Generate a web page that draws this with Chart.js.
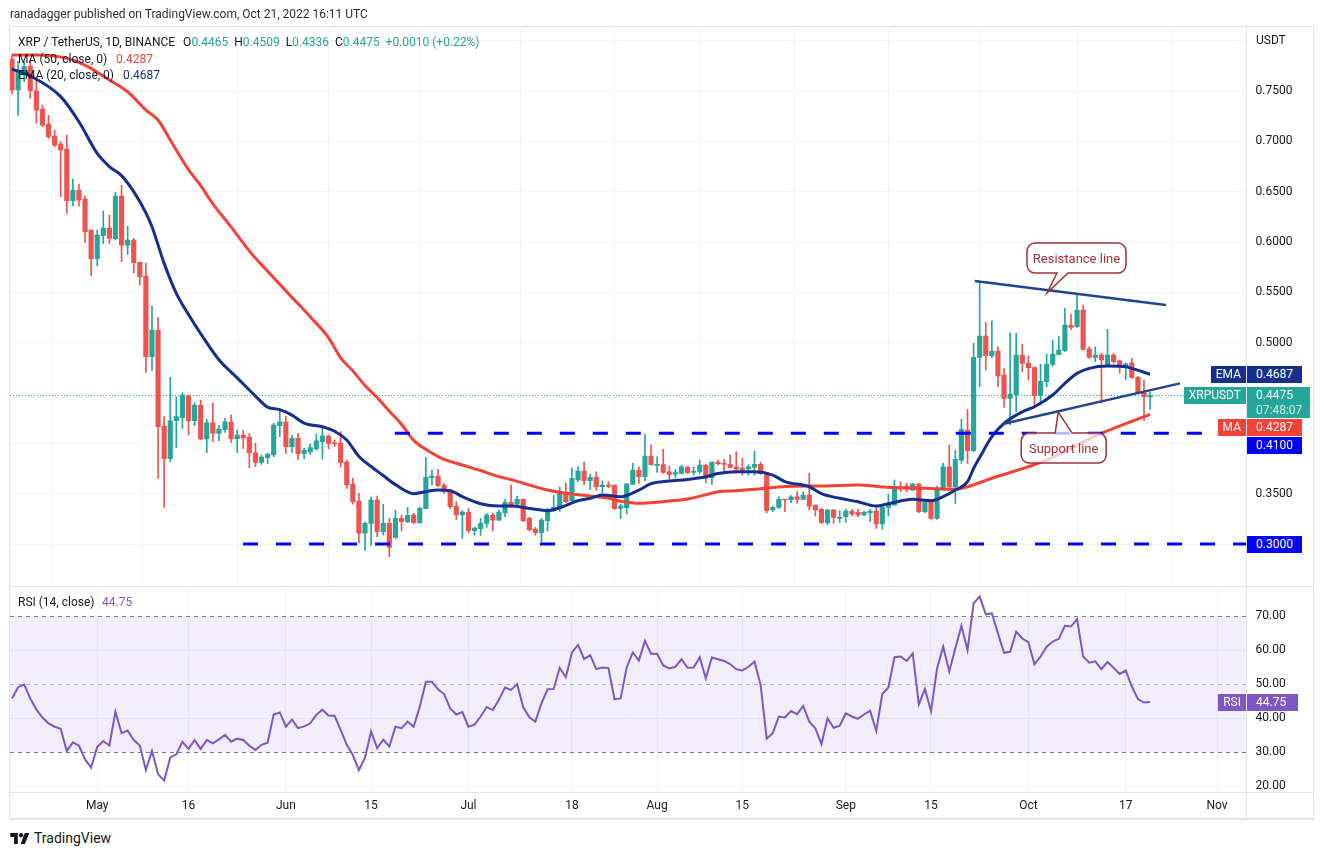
<!DOCTYPE html>
<html>
<head>
<meta charset="utf-8">
<script src="https://cdn.jsdelivr.net/npm/chart.js@4/dist/chart.umd.min.js"></script>
<style>
html,body{margin:0;padding:0;background:#fff;width:1324px;height:855px;overflow:hidden;font-family:Roboto,"Liberation Sans",Arial,sans-serif;color:#131722}
canvas{position:absolute;left:0}
#cA{top:0}
#cB{top:586px}
.t{position:absolute;white-space:nowrap;line-height:16px}
.lg{font-size:12px}
.g{color:#26a69a}
.ln{position:absolute;background:#e0e3eb}
.badge{position:absolute;height:17px;line-height:17px;font-size:12px;color:#fff;white-space:nowrap}
.co{position:absolute;display:flex;align-items:center;justify-content:center;font-size:13px;color:#a3303a;white-space:nowrap}
</style>
</head>
<body>
<canvas id="cA" width="1324" height="586"></canvas>
<canvas id="cB" width="1324" height="234"></canvas>

<div class="ln" style="left:9px;top:26px;width:1305px;height:1px"></div>
<div class="ln" style="left:9px;top:26px;width:1px;height:794px"></div>
<div class="ln" style="left:1313px;top:26px;width:1px;height:794px"></div>
<div class="ln" style="left:9px;top:586px;width:1305px;height:1px"></div>
<div class="ln" style="left:9px;top:792px;width:1305px;height:1px"></div>
<div class="ln" style="left:9px;top:818px;width:1305px;height:2px"></div>
<div class="ln" style="left:1246px;top:26px;width:1px;height:793px"></div>

<div class="t" style="left:10px;top:6px;font-size:12px;color:#2a2e39">ranadagger published on TradingView.com, Oct 21, 2022 16:11 UTC</div>
<div class="t lg" style="left:18px;top:34px">XRP / TetherUS, 1D, BINANCE<span id="ohlc" style="margin-left:8px"></span></div>
<div class="t lg" style="left:18px;top:51px">MA (50, close, 0)</div>
<div class="t lg" id="maVal" style="left:116px;top:51px;color:#f44336"></div>
<div class="t lg" style="left:18px;top:67px">EMA (20, close, 0)</div>
<div class="t lg" id="emaVal" style="left:123px;top:67px;color:#152f8e"></div>
<div class="t lg" style="left:18px;top:594px">RSI (14, close)</div>
<div class="t lg" id="rsiVal" style="left:102px;top:594px;color:#7e57c2"></div>
<div class="t" style="left:1256px;top:32px;font-size:12px">USDT</div>

<div id="badges"></div>
<div id="callouts"></div>

<div class="t" style="left:10px;top:829px;font-size:14px;line-height:18px;display:flex;align-items:center">
<svg width="20" height="13" viewBox="0 0 36 24" style="margin-right:4px"><path d="M14 22H7V9H0V2h14v20zM27 22h-8l8-20h8L27 22z" fill="#131722"/><circle cx="20" cy="6" r="4" fill="#131722"/></svg>TradingView</div>

<script>
// ---------------- DATA ----------------
// Daily candles, index 0 = 2022-04-17 ... index 187 = 2022-10-21
const opens = [
.7814,.7510,.7692,.7748,.7503,.7321,.7172,.7053,.6973,.6924,
.6410,.6516,.6427,.6119,.5834,.6063,.6139,.6033,.6457,.5970,
.6020,.5798,.5662,.4861,.5126,.4172,.3848,.4225,.4255,.4473,
.4225,.4381,.4043,.4205,.4099,.4136,.4212,.4046,.4083,.4063,
.3907,.3811,.3857,.3884,.4175,.4212,.3967,.4050,.3897,.3914,
.3947,.4016,.4073,.4003,.4003,.3815,.3596,.3427,.3109,.3205,
.3437,.3122,.3205,.3066,.3255,.3222,.3288,.3212,.3351,.3659,
.3675,.3583,.3536,.3377,.3288,.3315,.3132,.3152,.3205,.3288,
.3238,.3308,.3414,.3397,.3444,.3258,.3149,.3112,.3232,.3331,
.3351,.3510,.3430,.3636,.3725,.3629,.3662,.3569,.3586,.3586,
.3354,.3361,.3593,.3735,.3669,.3874,.3781,.3788,.3718,.3695,
.3702,.3762,.3712,.3718,.3785,.3659,.3815,.3801,.3791,.3768,
.3752,.3745,.3762,.3791,.3709,.3338,.3364,.3444,.3437,.3470,
.3444,.3487,.3387,.3344,.3212,.3338,.3255,.3271,.3325,.3315,
.3288,.3311,.3328,.3199,.3364,.3387,.3563,.3576,.3536,.3596,
.3321,.3420,.3255,.3546,.3768,.3569,.3834,.4132,.3927,.4854,
.5066,.4871,.4917,.4679,.4447,.4480,.4877,.4795,.4752,.4473,
.4612,.4785,.4881,.4920,.5175,.5159,.5324,.4940,.4854,.4877,
.4778,.4877,.4821,.4755,.4801,.4656,.4503,.4465];
const highs = [
.7860,.7792,.7790,.7800,.7609,.7361,.7258,.7113,.6997,.7063,
.6626,.6576,.6457,.6119,.6119,.6308,.6268,.6493,.6563,.6159,
.6036,.5800,.5788,.5364,.5252,.4265,.4656,.4463,.4503,.4480,
.4404,.4430,.4239,.4397,.4182,.4248,.4281,.4132,.4132,.4099,
.4000,.3884,.3901,.4200,.4338,.4265,.4083,.4099,.3950,.3990,
.4090,.4172,.4083,.4033,.4116,.3834,.3653,.3503,.3220,.3470,
.3477,.3394,.3255,.3338,.3288,.3364,.3305,.3364,.3861,.3735,
.3742,.3603,.3543,.3420,.3331,.3354,.3166,.3255,.3305,.3305,
.3338,.3444,.3586,.3477,.3450,.3265,.3166,.3255,.3354,.3487,
.3569,.3609,.3758,.3768,.3815,.3695,.3718,.3626,.3620,.3586,
.3394,.3603,.3801,.3768,.4093,.3983,.3867,.3940,.3775,.3742,
.3785,.3775,.3768,.3834,.3795,.3815,.3834,.3841,.3884,.3917,
.3851,.3790,.3924,.3811,.3709,.3377,.3470,.3444,.3480,.3520,
.3520,.3702,.3387,.3354,.3344,.3344,.3331,.3344,.3344,.3344,
.3328,.3344,.3387,.3387,.3497,.3636,.3619,.3603,.3603,.3603,
.3444,.3437,.3576,.3801,.3983,.3934,.4239,.4338,.4993,.5596,
.5199,.5218,.4960,.4745,.5099,.5093,.4987,.4867,.4761,.4788,
.4887,.5026,.5060,.5341,.5285,.5483,.5374,.4960,.4960,.4894,
.5132,.4894,.4828,.4801,.4845,.4665,.4629,.4509];
const lows = [
.7470,.7258,.7593,.7427,.7182,.7145,.7030,.6947,.6450,.6285,
.6361,.6357,.5997,.5666,.5765,.5987,.5987,.6020,.5804,.5877,
.5695,.5573,.4705,.4722,.3652,.3364,.3818,.3957,.4149,.4083,
.4175,.4033,.3907,.4016,.4026,.4109,.4006,.3907,.3950,.3758,
.3768,.3792,.3798,.3868,.4066,.3901,.3907,.3838,.3848,.3891,
.3934,.3844,.3944,.3967,.3767,.3553,.3397,.3010,.2934,.2987,
.3073,.3089,.2874,.3056,.3129,.3212,.3205,.3205,.3351,.3586,
.3569,.3503,.3350,.3245,.3056,.3112,.3089,.3086,.3166,.3129,
.3232,.3271,.3364,.3387,.3225,.3129,.3089,.3023,.3129,.3325,
.3325,.3410,.3420,.3619,.3586,.3543,.3536,.3510,.3560,.3344,
.3251,.3298,.3593,.3603,.3626,.3785,.3712,.3702,.3643,.3653,
.3695,.3702,.3685,.3702,.3609,.3593,.3785,.3702,.3755,.3702,
.3685,.3685,.3685,.3692,.3311,.3321,.3354,.3321,.3410,.3404,
.3437,.3338,.3278,.3205,.3189,.3205,.3215,.3215,.3278,.3271,
.3278,.3222,.3156,.3146,.3278,.3387,.3520,.3520,.3536,.3311,
.3311,.3245,.3245,.3536,.3536,.3404,.3801,.3801,.3917,.4563,
.4728,.4850,.4563,.4358,.4182,.4315,.4712,.4629,.4381,.4381,
.4563,.4768,.4881,.4910,.5126,.5152,.4928,.4845,.4811,.4398,
.4768,.4796,.4696,.4636,.4646,.4497,.4225,.4336];
const closes = [
.7510,.7692,.7742,.7503,.7311,.7162,.7046,.6963,.6914,.6410,
.6516,.6417,.6102,.5834,.6069,.6139,.6036,.6457,.5970,.6020,
.5795,.5656,.4861,.5126,.4166,.3848,.4225,.4265,.4480,.4225,
.4381,.4043,.4205,.4099,.4142,.4215,.4046,.4083,.4053,.3907,
.3811,.3864,.3894,.4182,.4215,.3967,.4050,.3897,.3931,.3957,
.4026,.4073,.4000,.3995,.3808,.3586,.3420,.3109,.3205,.3437,
.3122,.3205,.2967,.3255,.3222,.3285,.3212,.3354,.3662,.3675,
.3580,.3526,.3371,.3288,.3318,.3132,.3159,.3205,.3288,.3238,
.3315,.3414,.3377,.3444,.3232,.3139,.3112,.3238,.3331,.3364,
.3510,.3420,.3653,.3725,.3629,.3662,.3569,.3586,.3573,.3351,
.3377,.3596,.3735,.3669,.3874,.3788,.3788,.3712,.3692,.3709,
.3768,.3709,.3718,.3785,.3653,.3815,.3798,.3791,.3762,.3745,
.3735,.3768,.3791,.3702,.3331,.3364,.3444,.3437,.3470,.3444,
.3487,.3377,.3338,.3212,.3338,.3265,.3265,.3328,.3298,.3288,
.3315,.3328,.3199,.3364,.3397,.3560,.3546,.3543,.3596,.3321,
.3420,.3255,.3553,.3768,.3569,.3841,.4139,.3927,.4854,.5066,
.4871,.4917,.4669,.4447,.4490,.4877,.4795,.4752,.4473,.4616,
.4785,.4887,.4927,.5175,.5152,.5324,.4934,.4854,.4877,.4828,
.4877,.4811,.4778,.4791,.4656,.4503,.4465,.4475];
const rsiValues = [
45.8,49.1,49.9,45.8,42.6,40.2,38.5,37.5,36.9,30.4,
32.9,31.9,27.9,25.5,31.6,33.3,32.0,41.9,35.6,36.4,
33.6,32.0,24.8,30.4,23.6,21.7,28.5,29.4,33.1,31.0,
33.6,31.0,33.6,32.6,33.8,35.1,33.1,34.0,33.6,31.9,
30.7,32.2,32.8,41.1,41.7,37.5,39.6,37.1,37.6,38.5,
41.0,42.5,40.8,40.7,36.6,32.2,29.2,24.8,28.4,36.1,
31.2,33.7,31.7,37.5,37.1,39.0,37.5,43.4,50.7,50.7,
48.5,47.1,42.9,41.1,41.8,37.5,38.1,40.5,43.3,42.4,
45.4,49.0,48.3,50.0,43.2,40.3,39.0,44.4,48.5,48.6,
54.8,52.0,59.3,61.5,57.4,58.5,54.4,54.9,54.7,45.6,
45.8,54.9,59.3,56.9,62.7,58.9,58.9,55.5,54.6,55.1,
57.3,54.8,54.9,57.9,51.7,57.8,57.3,56.8,55.9,54.4,
54.0,55.1,56.6,49.8,34.0,35.6,40.5,40.2,42.1,41.2,
43.6,39.0,37.0,32.4,40.0,37.2,37.8,41.4,40.5,39.8,
41.1,42.2,36.3,47.1,49.0,57.9,58.1,56.8,59.0,44.1,
48.6,42.1,54.6,61.0,53.7,60.5,67.1,60.0,73.7,75.7,
70.5,70.8,64.9,59.2,59.5,65.4,63.4,62.3,55.8,58.1,
61.0,62.5,63.3,67.1,66.9,69.1,58.1,56.3,56.7,54.4,
56.5,54.8,53.0,54.0,49.3,45.6,44.6,44.75];
// EMA(20): [day index, value]
const emaLine = [[0,0.7718],[3,0.7650],[8,0.7444],[11,0.7195],[14,0.6880],[16,0.6750],[18,0.6660],[20,0.6500],[22,0.6290],[23,0.6152],[25,0.5788],[27,0.5490],[29,0.5280],[31,0.5090],[34,0.4830],[37,0.4650],[40,0.4470],[42,0.4360],[44,0.4335],[46,0.4280],[48,0.4200],[51,0.4165],[53,0.4120],[55,0.4033],[57,0.3870],[59,0.3770],[61,0.3680],[63,0.3590],[66,0.3500],[68,0.3520],[70,0.3536],[72,0.3530],[74,0.3470],[77,0.3400],[80,0.3377],[82,0.3377],[85,0.3354],[88,0.3331],[90,0.3360],[93,0.3430],[95,0.3454],[97,0.3487],[100,0.3470],[103,0.3536],[105,0.3600],[108,0.3626],[111,0.3642],[114,0.3669],[116,0.3700],[119,0.3718],[122,0.3718],[125,0.3685],[127,0.3620],[131,0.3569],[133,0.3500],[136,0.3454],[139,0.3420],[142,0.3377],[144,0.3400],[148,0.3444],[151,0.3430],[153,0.3470],[155,0.3536],[157,0.3620],[158,0.3750],[159,0.3860],[161,0.4066],[163,0.4199],[166,0.4314],[168,0.4364],[171,0.4480],[173,0.4596],[175,0.4695],[177,0.4745],[180,0.4768],[183,0.4761],[184,0.4745],[187,0.4687]];
// MA(50): [day index, value]
const maLine = [[0,0.7857],[4,0.7857],[9,0.7824],[12,0.7758],[16,0.7609],[19,0.7493],[22,0.7311],[24,0.7212],[26,0.7013],[29,0.6720],[31,0.6560],[33,0.6380],[36,0.6150],[39,0.5910],[42,0.5710],[46,0.5450],[49,0.5258],[52,0.5050],[54,0.4850],[56,0.4720],[58,0.4575],[60,0.4455],[62,0.4320],[64,0.4190],[66,0.4030],[69,0.3905],[71,0.3840],[74,0.3785],[77,0.3730],[80,0.3670],[82,0.3640],[85,0.3586],[88,0.3536],[91,0.3505],[93,0.3490],[95,0.3477],[98,0.3454],[100,0.3425],[103,0.3404],[105,0.3410],[108,0.3427],[111,0.3447],[114,0.3490],[116,0.3520],[119,0.3529],[122,0.3543],[124,0.3556],[128,0.3573],[133,0.3576],[139,0.3586],[144,0.3563],[150,0.3553],[155,0.3543],[157,0.3569],[161,0.3653],[170,0.3834],[179,0.4100],[187,0.4287]];
const dateTicks  = [14,29,45,59,75,92,106,120,137,151,167,183,198];
const dateLabels = ['May','16','Jun','15','Jul','18','Aug','15','Sep','15','Oct','17','Nov'];
const priceTicks = [0.30,0.35,0.40,0.45,0.50,0.55,0.60,0.65,0.70,0.75,0.80];
const rsiTicks   = [20,30,40,50,60,70];
const rsiLevels  = [30,50,70];
// horizontal levels: [price, first day]
const levelLines = [[0.41,62.9],[0.30,37.96]];
const resistanceLine = [[158.2,0.5613],[189.6,0.5374]];
const supportLine    = [[162.8,0.4192],[191.9,0.4596]];
const calloutTexts   = ['Resistance line','Support line'];
const calloutAnchors = [[170.06,0.5493],[171.9,0.4311]];

// ---------------- STYLE ----------------
const X_MIN=-0.33, X_MAX=202.84, P_MIN=0.2583, P_MAX=0.8146, R_MIN=18.35, R_MAX=78.8;
const UP='#26a69a', DOWN='#ef5350', EMA_C='#152f8e', MA_C='#f44336', LEVEL_C='#0000ff', TREND_C='#22448c', RSI_C='#7e57c2', GRID='#f0f3fa';
const calloutLayout = [
  {dx:-20, dy:-50, w:99, h:30, side:'bottom', b1:10, b2:21},
  {dx:-37, dy:21,  w:85, h:30, side:'top',    b1:-3, b2:14}
];

Chart.defaults.font.family = 'Roboto, "Liberation Sans", Arial, sans-serif';
Chart.defaults.font.size = 12;
Chart.defaults.color = '#131722';

const idx = opens.map((_, i) => i);
const last = closes.length - 1;
const isUp = i => closes[i] >= opens[i];
const candleColor = c => isUp(c.dataIndex) ? UP : DOWN;
function zeroPad(s){ s.paddingTop=0; s.paddingBottom=0; s.paddingLeft=0; s.paddingRight=0; }

function xScale(showLabels){
  return {
    type:'linear', min:X_MIN, max:X_MAX, offset:false,
    afterBuildTicks: s => { s.ticks = dateTicks.map(v => ({value:v})); },
    grid:{color:GRID, drawTicks:false},
    border:{display:false},
    ticks:{display:showLabels, autoSkip:false, maxRotation:0, padding:7,
      callback: v => { const k = dateTicks.indexOf(v); return k >= 0 ? dateLabels[k] : ''; }},
    afterFit: s => { s.height = showLabels ? 28 : 0; zeroPad(s); }
  };
}

const calloutPlugin = {
  id:'callouts',
  afterDatasetsDraw(chart){
    const {ctx, scales:{x, y}} = chart;
    const holder = document.getElementById('callouts');
    holder.innerHTML = '';
    calloutAnchors.forEach(([d, p], k) => {
      const L = calloutLayout[k];
      const ax = x.getPixelForValue(d), ay = y.getPixelForValue(p);
      const bx = ax + L.dx, by = ay + L.dy, w = L.w, h = L.h, r = 8;
      ctx.save();
      ctx.beginPath();
      ctx.moveTo(bx + r, by);
      if (L.side === 'top') { ctx.lineTo(ax + L.b1, by); ctx.lineTo(ax, ay); ctx.lineTo(ax + L.b2, by); }
      ctx.lineTo(bx + w - r, by); ctx.arcTo(bx + w, by, bx + w, by + r, r);
      ctx.lineTo(bx + w, by + h - r); ctx.arcTo(bx + w, by + h, bx + w - r, by + h, r);
      if (L.side === 'bottom') { ctx.lineTo(ax + L.b2, by + h); ctx.lineTo(ax, ay); ctx.lineTo(ax + L.b1, by + h); }
      ctx.lineTo(bx + r, by + h); ctx.arcTo(bx, by + h, bx, by + h - r, r);
      ctx.lineTo(bx, by + r); ctx.arcTo(bx, by, bx + r, by, r);
      ctx.closePath();
      ctx.fillStyle = 'rgba(255,255,255,0.72)'; ctx.fill();
      ctx.strokeStyle = '#a1313b'; ctx.lineWidth = 1.5; ctx.stroke();
      ctx.restore();
      const el = document.createElement('div');
      el.className = 'co';
      el.style.left = bx + 'px'; el.style.top = by + 'px';
      el.style.width = w + 'px'; el.style.height = h + 'px';
      el.textContent = calloutTexts[k];
      holder.appendChild(el);
    });
  }
};

const rsiBandPlugin = {
  id:'rsiBand',
  beforeDatasetsDraw(chart){
    const {ctx, chartArea:a, scales:{y}} = chart;
    const yTop = y.getPixelForValue(rsiLevels[2]), yBot = y.getPixelForValue(rsiLevels[0]);
    ctx.save();
    ctx.fillStyle = 'rgba(126,87,194,0.1)';
    ctx.fillRect(a.left, yTop, a.right - a.left, yBot - yTop);
    ctx.lineWidth = 1;
    ctx.setLineDash([4,4]);
    rsiLevels.forEach(l => {
      const yy = Math.round(y.getPixelForValue(l)) + 0.5;
      ctx.strokeStyle = l === 50 ? 'rgba(120,123,134,0.55)' : '#787b86';
      ctx.beginPath(); ctx.moveTo(a.left, yy); ctx.lineTo(a.right, yy); ctx.stroke();
    });
    ctx.restore();
  }
};

const lineDs = (data, color, width, order, extra) => Object.assign({
  type:'line', data: data.map(([x, y]) => ({x, y})), borderColor:color, borderWidth:width,
  pointRadius:0, fill:false, order
}, extra || {});

const chartA = new Chart(document.getElementById('cA'), {
  type:'bar',
  data:{ datasets:[
    {type:'bar', data: idx.map(i => ({x:i, y:[lows[i], highs[i]]})), backgroundColor:candleColor, barThickness:1, grouped:false, order:9},
    {type:'bar', data: idx.map(i => ({x:i, y:[opens[i], closes[i]]})), backgroundColor:candleColor, barThickness:4.5, minBarLength:1, grouped:false, order:8},
    lineDs([[X_MIN, closes[last]], [X_MAX, closes[last]]], UP, 1, 7, {borderDash:[1,2]}),
    lineDs(maLine, MA_C, 3, 6, {cubicInterpolationMode:'monotone'}),
    lineDs(emaLine, EMA_C, 3, 5, {cubicInterpolationMode:'monotone'}),
    ...levelLines.map(([p, d]) => lineDs([[d, p], [X_MAX, p]], LEVEL_C, 3, 4, {borderDash:[15,18], borderCapStyle:'butt'})),
    lineDs(resistanceLine, TREND_C, 2.5, 3),
    lineDs(supportLine, TREND_C, 2.5, 3)
  ]},
  options:{
    responsive:false, animation:false, events:[],
    layout:{padding:{top:26, left:10, right:0, bottom:0}},
    plugins:{legend:{display:false}, tooltip:{enabled:false}},
    scales:{
      x: xScale(false),
      y: {type:'linear', position:'right', min:P_MIN, max:P_MAX,
        afterBuildTicks: s => { s.ticks = priceTicks.map(v => ({value:v})); },
        grid:{color:GRID, drawTicks:false}, border:{display:false},
        ticks:{autoSkip:false, padding:9, callback: v => v > 0.76 ? '' : v.toFixed(4)},
        afterFit: s => { s.width = 77.5; zeroPad(s); }}
    }
  },
  plugins:[calloutPlugin]
});

const chartB = new Chart(document.getElementById('cB'), {
  type:'line',
  data:{ datasets:[
    {data: idx.map(i => ({x:i, y:rsiValues[i]})), borderColor:RSI_C, borderWidth:2, pointRadius:0, fill:false, tension:0}
  ]},
  options:{
    responsive:false, animation:false, events:[],
    layout:{padding:{top:0, left:10, right:0, bottom:0}},
    plugins:{legend:{display:false}, tooltip:{enabled:false}},
    scales:{
      x: xScale(true),
      y: {type:'linear', position:'right', min:R_MIN, max:R_MAX,
        afterBuildTicks: s => { s.ticks = rsiTicks.map(v => ({value:v})); },
        grid:{color: c => (c.tick && rsiLevels.includes(c.tick.value)) ? 'rgba(0,0,0,0)' : GRID, drawTicks:false},
        border:{display:false},
        ticks:{autoSkip:false, padding:9, callback: v => v.toFixed(2)},
        afterFit: s => { s.width = 77.5; zeroPad(s); }}
    }
  },
  plugins:[rsiBandPlugin]
});

// ---------------- LEGEND TEXT ----------------
const chg = closes[last] - closes[last - 1];
const pct = chg / closes[last - 1] * 100;
const sgn = v => (v >= 0 ? '+' : '') ;
document.getElementById('ohlc').innerHTML =
  'O<span class="g">' + opens[last].toFixed(4) + '</span>&nbsp; H<span class="g">' + highs[last].toFixed(4) +
  '</span>&nbsp; L<span class="g">' + lows[last].toFixed(4) + '</span>&nbsp; C<span class="g">' + closes[last].toFixed(4) +
  '</span>&nbsp; <span class="g">' + sgn(chg) + chg.toFixed(4) + ' (' + sgn(pct) + pct.toFixed(2) + '%)</span>';
const maLast = maLine[maLine.length - 1][1], emaLast = emaLine[emaLine.length - 1][1], rsiLast = rsiValues[last];
document.getElementById('maVal').textContent = maLast.toFixed(4);
document.getElementById('emaVal').textContent = emaLast.toFixed(4);
document.getElementById('rsiVal').textContent = rsiLast.toFixed(2);

// ---------------- AXIS BADGES ----------------
(function(){
  const holder = document.getElementById('badges');
  const yA = chartA.scales.y, yB = chartB.scales.y;
  const items = [
    {label:'EMA', value:emaLast, bg:EMA_C},
    {label:'XRPUSDT', value:closes[last], bg:UP, sub:'07:48:07'},
    {label:'MA', value:maLast, bg:MA_C},
    {label:null, value:levelLines[0][0], bg:LEVEL_C},
    {label:null, value:levelLines[1][0], bg:LEVEL_C}
  ];
  let prevBottom = -1e9;
  const add = (it, top, digits) => {
    const h = it.sub ? 31 : 17;
    const v = document.createElement('div');
    v.className = 'badge';
    v.style.left = '1247px'; v.style.top = top + 'px';
    v.style.background = it.bg; v.style.height = h + 'px';
    v.style.padding = '0 ' + (it.sub ? 8 : 9) + 'px 0 9px';
    v.style.minWidth = '33px';
    v.innerHTML = it.value.toFixed(digits) + (it.sub ? '<div style="line-height:13px;font-size:12px;color:rgba(255,255,255,0.78)">' + it.sub + '</div>' : '');
    holder.appendChild(v);
    if (it.label) {
      const l = document.createElement('div');
      l.className = 'badge';
      l.style.right = (1324 - 1246) + 'px'; l.style.top = top + 'px';
      l.style.background = it.bg; l.style.padding = '0 5px';
      l.textContent = it.label;
      holder.appendChild(l);
    }
    return top + h;
  };
  items.forEach(it => {
    let top = yA.getPixelForValue(it.value) - 8.5;
    if (top < prevBottom + 1) top = prevBottom + 1;
    prevBottom = add(it, top, 4);
  });
  add({label:'RSI', value:rsiLast, bg:RSI_C}, 586 + yB.getPixelForValue(rsiLast) - 8.5, 2);
})();
</script>
</body>
</html>
